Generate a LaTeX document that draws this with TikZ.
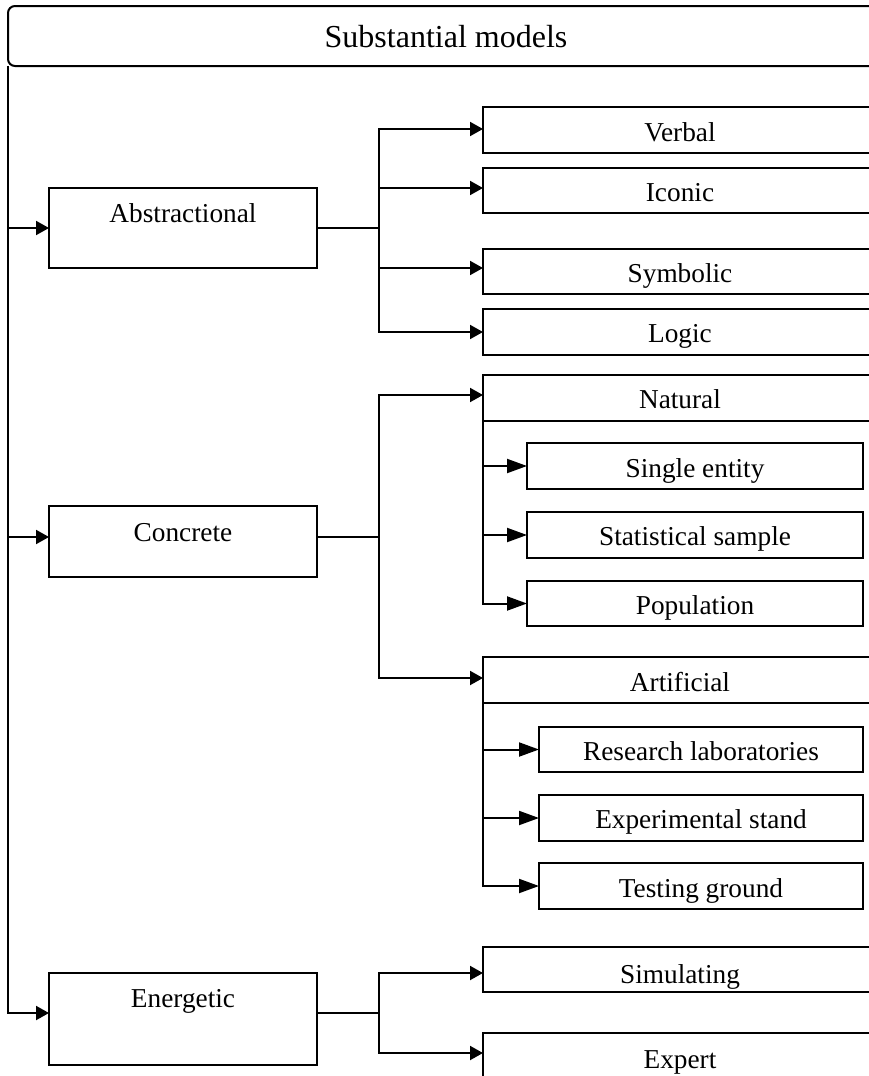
\documentclass[tikz,border=0pt]{standalone}
\usepackage{fontspec}
\setmainfont{Liberation Serif}
\usetikzlibrary{arrows.meta}
\begin{document}
\begin{tikzpicture}[x=1pt,y=-1pt,
  frame/.style={draw,line width=2pt,inner sep=0pt,outer sep=0pt,anchor=north west},
  txt/.style={anchor=base,inner sep=0pt,font=\fontsize{27.3}{32}\selectfont},
  conn/.style={line width=2pt},
  arr/.style={conn,-{Triangle[length=13pt,width=14pt]}},
  subarr/.style={conn,-{Triangle[length=20pt,width=14pt]}}]
\useasboundingbox (0,0) rectangle (869,1076);
\clip (0,0) rectangle (869,1076);

% heading
\node[frame,rounded corners=7pt,minimum width=876,minimum height=60] (top) at (8,6) {};
\node[anchor=base,inner sep=0pt,font=\fontsize{32}{38}\selectfont] (toptxt) at (446,47) {Substantial models};

% first level
\node[frame,minimum width=268,minimum height=80] (abs) at (49,188) {};
\node[txt] (abs-t) at (183,222) {Abstractional};
\node[frame,minimum width=268,minimum height=71] (conc) at (49,506) {};
\node[txt] (conc-t) at (183,541) {Concrete};
\node[frame,minimum width=268,minimum height=92] (ener) at (49,973) {};
\node[txt] (ener-t) at (183,1007) {Energetic};

% second level
\node[frame,minimum width=394,minimum height=46] (verbal) at (483,107) {};
\node[txt] (verbal-t) at (680,141) {Verbal};
\node[frame,minimum width=394,minimum height=45] (iconic) at (483,168) {};
\node[txt] (iconic-t) at (680,201) {Iconic};
\node[frame,minimum width=394,minimum height=45] (symb) at (483,249) {};
\node[txt] (symb-t) at (680,282) {Symbolic};
\node[frame,minimum width=394,minimum height=46] (logic) at (483,309) {};
\node[txt] (logic-t) at (680,342) {Logic};
\node[frame,minimum width=394,minimum height=46] (nat) at (483,375) {};
\node[txt] (nat-t) at (680,408) {Natural};
\node[frame,minimum width=394,minimum height=46] (art) at (483,657) {};
\node[txt] (art-t) at (680,691) {Artificial};
\node[frame,minimum width=394,minimum height=45] (sim) at (483,947) {};
\node[txt] (sim-t) at (680,983) {Simulating};
\node[frame,minimum width=394,minimum height=46] (exp) at (483,1033) {};
\node[txt] (exp-t) at (680,1068) {Expert};

% third level
\node[frame,minimum width=336,minimum height=46] (single) at (527,443) {};
\node[txt] (single-t) at (695,477) {Single entity};
\node[frame,minimum width=336,minimum height=46] (stat) at (527,512) {};
\node[txt] (stat-t) at (695,545) {Statistical sample};
\node[frame,minimum width=336,minimum height=45] (pop) at (527,581) {};
\node[txt] (pop-t) at (695,614) {Population};
\node[frame,minimum width=324,minimum height=45] (lab) at (539,727) {};
\node[txt] (lab-t) at (701,760) {Research laboratories};
\node[frame,minimum width=324,minimum height=46] (stand) at (539,795) {};
\node[txt] (stand-t) at (701,828) {Experimental stand};
\node[frame,minimum width=324,minimum height=46] (ground) at (539,863) {};
\node[txt] (ground-t) at (701,897) {Testing ground};

% main trunk
\draw[arr] (top.south west) |- (abs.west);
\draw[arr] (top.south west) |- ([yshift=4.5pt]conc.west);
\draw[arr] (top.south west) |- ([yshift=6pt]ener.west);

% abstractional branch
\coordinate (ja) at (379,228);
\draw[conn] (abs.east) -- (ja);
\draw[arr] (ja) |- ([yshift=1pt]verbal.west);
\draw[arr] (ja) |- ([yshift=2.5pt]iconic.west);
\draw[arr] (ja) |- ([yshift=3.5pt]symb.west);
\draw[arr] (ja) |- (logic.west);

% concrete branch
\coordinate (jc) at (379,537);
\draw[conn] ([yshift=4.5pt]conc.east) -- (jc);
\draw[arr] (jc) |- ([yshift=3pt]nat.west);
\draw[arr] (jc) |- ([yshift=2pt]art.west);
\draw[subarr] (nat.south west) |- (single.west);
\draw[subarr] (nat.south west) |- (stat.west);
\draw[subarr] (nat.south west) |- (pop.west);
\draw[subarr] (art.south west) |- (lab.west);
\draw[subarr] (art.south west) |- (stand.west);
\draw[subarr] (art.south west) |- (ground.west);

% energetic branch
\coordinate (je) at (379,1013);
\draw[conn] ([yshift=6pt]ener.east) -- (je);
\draw[arr] (je) |- ([yshift=-3.5pt]sim.west);
\draw[arr] (je) |- ([yshift=3pt]exp.west);
\end{tikzpicture}
\end{document}
